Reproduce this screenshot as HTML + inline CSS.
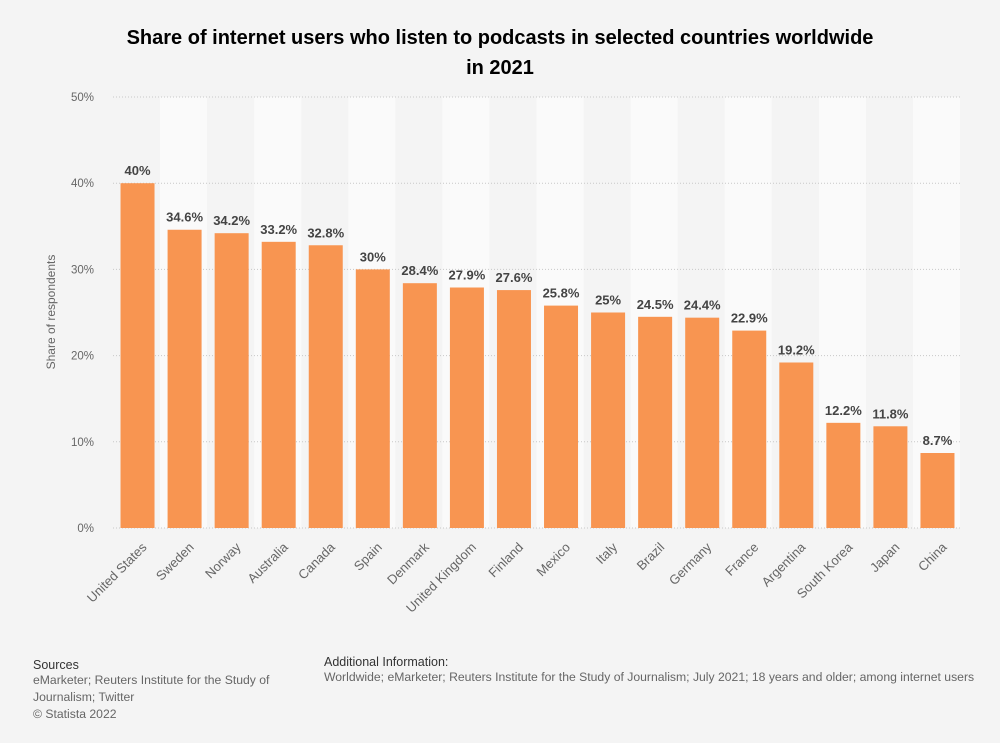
<!DOCTYPE html>
<html><head><meta charset="utf-8"><style>
body{margin:0;background:#f4f4f4;font-family:"Liberation Sans",Arial,sans-serif;}
#wrap{position:relative;width:1000px;height:743px;background:#f4f4f4;}
.t{position:absolute;left:0;width:1000px;text-align:center;font-weight:bold;font-size:20px;color:#000;line-height:30px;}
.foot{position:absolute;font-size:12.5px;color:#333;}
.foot .s{color:#666;font-size:12.2px;line-height:17px;}
</style></head><body>
<div id="wrap">
<div class="t" style="top:23px">Share of internet users who listen to podcasts in selected countries worldwide<br>in 2021</div>
<svg id="chart" width="1000" height="743" style="position:absolute;left:0;top:0"></svg>
<div class="foot" style="left:33px;top:658px">Sources<div class="s">eMarketer; Reuters Institute for the Study of<br>Journalism; Twitter<br>© Statista 2022</div></div>
<div class="foot" style="left:324px;top:655px">Additional Information:<div class="s">Worldwide; eMarketer; Reuters Institute for the Study of Journalism; July 2021; 18 years and older; among internet users</div></div>
</div>
<script>
const categories=["United States","Sweden","Norway","Australia","Canada","Spain","Denmark","United Kingdom","Finland","Mexico","Italy","Brazil","Germany","France","Argentina","South Korea","Japan","China"];
const values=[40,34.6,34.2,33.2,32.8,30,28.4,27.9,27.6,25.8,25,24.5,24.4,22.9,19.2,12.2,11.8,8.7];
const labels=["40%","34.6%","34.2%","33.2%","32.8%","30%","28.4%","27.9%","27.6%","25.8%","25%","24.5%","24.4%","22.9%","19.2%","12.2%","11.8%","8.7%"];
const ticks=[0,10,20,30,40,50];
const NS="http://www.w3.org/2000/svg";
const svg=document.getElementById('chart');
const x0=113,x1=960,y0=528,y1=97,yMax=50;
const band=(x1-x0)/categories.length;
const y=v=>y0-(v/yMax)*(y0-y1);
const x=i=>x0+i*band;
function mk(t,a){const e=document.createElementNS(NS,t);for(const k in a)e.setAttribute(k,a[k]);svg.appendChild(e);return e;}
categories.forEach((c,i)=>{if(i%2==1){const r=mk('rect',{x:x(i),y:y1,width:band,height:y0-y1,fill:'#fafafa'});

}});
ticks.forEach(t=>{
 const l=mk('line',{x1:x0,x2:x1,y1:y(t),y2:y(t),stroke:'#c8c8c8','stroke-dasharray':'1,2'});
 
 
 const tx=mk('text',{x:94,y:y(t)+4,'text-anchor':'end','font-size':'11.5',fill:'#666'});tx.textContent=t+'%';
 
 
});
const yt=mk('text',{x:0,y:0,transform:'translate(55,312) rotate(-90)','text-anchor':'middle','font-size':'12',fill:'#666'});yt.textContent='Share of respondents';


categories.forEach((c,i)=>{
 const bw=34,bx=x(i)+(band-bw)/2+1;
 const r=mk('rect',{x:bx,y:y(values[i]),width:bw,height:y0-y(values[i]),fill:'#f89551'});
 
 
 const v=mk('text',{x:bx+bw/2,y:y(values[i])-8,'text-anchor':'middle','font-size':'13','font-weight':'bold',fill:'#444'});v.textContent=labels[i];
 
 
 const cx=bx+bw/2+10;
 const ct=mk('text',{x:cx,y:548,transform:`rotate(-45 ${cx} 548)`,'text-anchor':'end','font-size':'13',fill:'#666'});ct.textContent=c;
 
 
});
</script>
</body></html>
